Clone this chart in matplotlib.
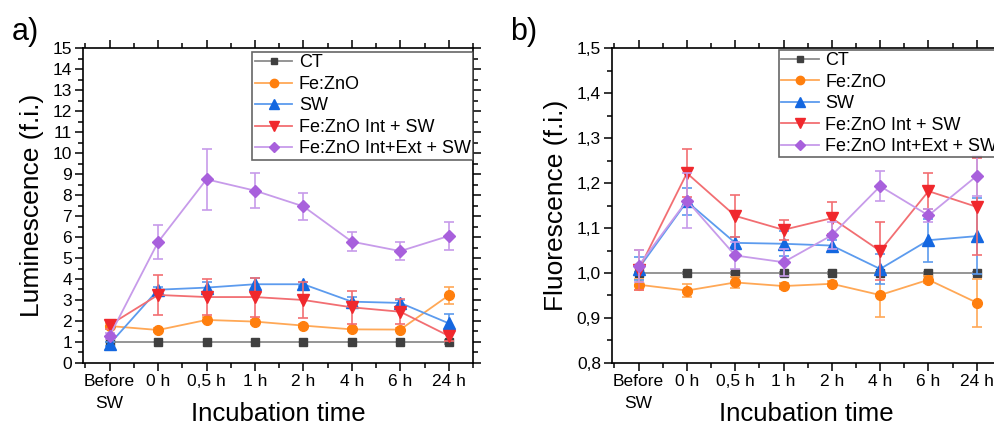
import numpy as np
import matplotlib
matplotlib.use('Agg')
import matplotlib.pyplot as plt
from matplotlib.ticker import MultipleLocator
from matplotlib import font_manager

# data
times = ['Before\nSW', '0 h', '0,5 h', '1 h', '2 h', '4 h', '6 h', '24 h']
names = ['CT', 'Fe:ZnO', 'SW', 'Fe:ZnO Int + SW', 'Fe:ZnO Int+Ext + SW']

# a) luminescence
lum_ct = [1.0, 1.0, 1.0, 1.0, 1.0, 1.0, 1.0, 1.0]
lum_ct_err = [0.02, 0.02, 0.02, 0.02, 0.02, 0.02, 0.02, 0.1]
lum_fe = [1.76, 1.57, 2.05, 1.97, 1.78, 1.60, 1.59, 3.22]
lum_fe_err = [0.15, 0.08, 0.12, 0.1, 0.08, 0.08, 0.08, 0.4]
lum_sw = [0.9, 3.49, 3.59, 3.75, 3.75, 2.92, 2.86, 1.89]
lum_sw_err = [0.1, 0.12, 0.25, 0.3, 0.1, 0.2, 0.15, 0.45]
lum_int = [1.81, 3.24, 3.14, 3.14, 3.0, 2.65, 2.44, 1.29]
lum_int_err = [0.2, 0.97, 0.85, 0.93, 0.85, 0.8, 0.6, 0.25]
lum_ext = [1.29, 5.76, 8.75, 8.21, 7.46, 5.78, 5.33, 6.05]
lum_ext_err = [0.15, 0.8, 1.46, 0.83, 0.66, 0.44, 0.42, 0.67]

# b) fluorescence
flu_ct = [1.0, 1.0, 1.0, 1.0, 1.0, 1.0, 1.0, 1.0]
flu_ct_err = [0.002, 0.002, 0.002, 0.002, 0.002, 0.002, 0.002, 0.002]
flu_fe = [0.974, 0.961, 0.979, 0.971, 0.976, 0.951, 0.985, 0.934]
flu_fe_err = [0.012, 0.015, 0.012, 0.006, 0.006, 0.048, 0.008, 0.053]
flu_sw = [1.01, 1.159, 1.067, 1.065, 1.061, 1.009, 1.073, 1.082]
flu_sw_err = [0.025, 0.03, 0.012, 0.028, 0.012, 0.033, 0.048, 0.085]
flu_int = [1.007, 1.222, 1.127, 1.096, 1.122, 1.049, 1.182, 1.147]
flu_int_err = [0.045, 0.053, 0.047, 0.022, 0.035, 0.064, 0.04, 0.108]
flu_ext = [1.016, 1.161, 1.039, 1.024, 1.084, 1.193, 1.128, 1.216]
flu_ext_err = [0.035, 0.062, 0.03, 0.03, 0.03, 0.034, 0.015, 0.045]

mk_colors = ['#404040', '#FF7F0E', '#1467E0', '#F0282D', '#A860DC']
ln_colors = ['#8C8C8C', '#FFA856', '#5C9BEE', '#F26E72', '#C79BEA']
markers = ['s', 'o', '^', 'v', 'D']
msizes = [6, 7, 8, 8, 6]

avail = set(f.name for f in font_manager.fontManager.ttflist)
narrow = 'Liberation Sans Narrow' if 'Liberation Sans Narrow' in avail else 'Liberation Sans'
plt.rcParams['font.family'] = ['Liberation Sans', 'DejaVu Sans']

fig = plt.figure(figsize=(9.94, 4.26), dpi=100)
ax1 = fig.add_axes([0.0835, 0.148, 0.3923, 0.739])
ax2 = fig.add_axes([0.6157, 0.148, 0.3913, 0.739])

x = np.arange(len(times))


def draw(ax, series, errs):
    for i in range(len(series)):
        ax.plot(x, series[i], color=ln_colors[i], lw=1.3, zorder=2 + i)
        ax.errorbar(x, series[i], yerr=errs[i], fmt='none', ecolor=ln_colors[i],
                    elinewidth=1.2, capsize=3.5, capthick=1.2, zorder=2 + i)
        ax.plot(x, series[i], ls='none', marker=markers[i], ms=msizes[i],
                color=mk_colors[i], zorder=3 + i)
    # legend proxies
    handles = []
    for i in range(len(series)):
        h, = ax.plot([], [], color=ln_colors[i], lw=1.3, marker=markers[i],
                     ms=msizes[i] - 1, mfc=mk_colors[i], mec=mk_colors[i])
        handles.append(h)
    return handles


h1 = draw(ax1, [lum_ct, lum_fe, lum_sw, lum_int, lum_ext],
          [lum_ct_err, lum_fe_err, lum_sw_err, lum_int_err, lum_ext_err])
h2 = draw(ax2, [flu_ct, flu_fe, flu_sw, flu_int, flu_ext],
          [flu_ct_err, flu_fe_err, flu_sw_err, flu_int_err, flu_ext_err])

ax1.set_ylim(0, 15)
ax1.yaxis.set_major_locator(MultipleLocator(1))
ax1.yaxis.set_minor_locator(MultipleLocator(0.5))
ax2.set_ylim(0.8, 1.5)
ax2.yaxis.set_minor_locator(MultipleLocator(0.05))
yt = np.round(np.arange(0.8, 1.51, 0.1), 1)
ax2.set_yticks(yt)
ax2.set_yticklabels([('%.1f' % v).replace('.', ',') for v in yt])

for ax, yl in [(ax1, 'Luminescence (f.i.)'), (ax2, 'Fluorescence (f.i.)')]:
    ax.set_xlim(-0.55, 7.5)
    ax.set_xticks(x)
    ax.set_xticklabels(times, linespacing=1.55)
    ax.xaxis.set_minor_locator(MultipleLocator(0.5))
    for s in ax.spines.values():
        s.set_linewidth(1.2)
    ax.tick_params(which='both', direction='out', top=True, right=True, width=1.1,
                   labelsize=12.5)
    ax.tick_params(which='major', length=6, pad=2)
    ax.tick_params(which='minor', length=3.5)
    for t in ax.get_xticklabels() + ax.get_yticklabels():
        t.set_family(narrow)
    ax.set_ylabel(yl, fontsize=19, labelpad=6)
    ax.set_xlabel('Incubation time', fontsize=18.5)
    ax.xaxis.set_label_coords(0.5, -0.125)

fig.text(0.012, 0.905, 'a)', fontsize=22)
fig.text(0.513, 0.905, 'b)', fontsize=22)

leg_kw = dict(fontsize=13, frameon=True, fancybox=False, edgecolor='#404040',
              borderpad=0.12, labelspacing=0.25, handlelength=2.1,
              handletextpad=0.35, borderaxespad=0.0)
leg1 = ax1.legend(h1, names, loc='upper right', bbox_to_anchor=(1.0, 0.987), **leg_kw)
leg1.get_frame().set_linewidth(1.2)
leg1.set_zorder(20)
leg2 = ax2.legend(h2, names, loc='upper left', bbox_to_anchor=(0.429, 0.994), **leg_kw)
leg2.get_frame().set_linewidth(1.2)
leg2.set_zorder(20)

fig.savefig('out.png', dpi=100)
